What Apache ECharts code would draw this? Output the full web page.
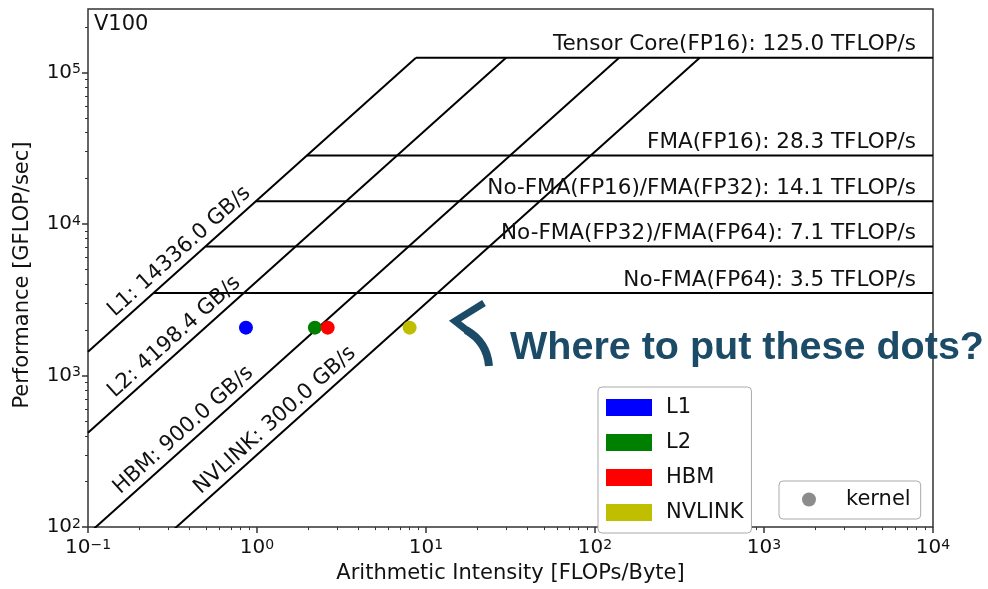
<!DOCTYPE html>
<html>
<head>
<meta charset="utf-8">
<script src="https://cdn.jsdelivr.net/npm/echarts@6/dist/echarts.min.js"></script>
<style>
  html, body { margin: 0; padding: 0; background: #fff; }
  #chart { width: 988px; height: 589px; }
</style>
</head>
<body>
<div id="chart"></div>
<script>
// ---------------- data ----------------
const chipName = 'V100';
const memLevels = ['L1', 'L2', 'HBM', 'NVLINK'];
const memBandwidth = [14336.0, 4198.4, 900.0, 300.0];          // GB/s
const computeNames = ['Tensor Core(FP16)', 'FMA(FP16)', 'No-FMA(FP16)/FMA(FP32)',
                      'No-FMA(FP32)/FMA(FP64)', 'No-FMA(FP64)'];
const computePeak = [125000, 28300, 14100, 7100, 3500];          // GFLOP/s
const kernelAI = [0.86, 2.2, 2.62, 8.0];                          // FLOPs/Byte
const kernelPerf = [2070, 2070, 2070, 2070];                      // GFLOP/s
const xTickExps = [-1, 0, 1, 2, 3, 4];
const yTickExps = [2, 3, 4, 5];
const xRange = [0.1, 10000];
const yRange = [100, 262000];

// ---------------- helpers ----------------
const L = Math.log10;
const FONT = 'DejaVu Sans';
const TXT = '#111';
const memColors = ['#0000ff', '#008000', '#ff0000', '#bfbf00'];

const xMin = L(xRange[0]), xMax = L(xRange[1]);
const yMin = L(yRange[0]), yMax = L(yRange[1]);

function minorTicks(lo, hi) {
  const out = [];
  for (let e = Math.floor(lo); e < Math.ceil(hi); e++) {
    for (let k = 2; k <= 9; k++) {
      const v = L(k * Math.pow(10, e));
      if (v > lo && v < hi) out.push(v);
    }
  }
  return out;
}
function expLabel(v) {
  const e = Math.round(v);
  const s = e < 0 ? '\u2212' + (-e) : '' + e;
  return '{b|10}{s|' + s + '}';
}
const tickRich = {
  b: { fontSize: 20, fontFamily: FONT, color: TXT, lineHeight: 20 },
  s: { fontSize: 14, fontFamily: FONT, color: TXT, lineHeight: 10, verticalAlign: 'top' }
};

const grid = { left: 88, right: 55, top: 9, bottom: 60 };
const gridW = 988 - grid.left - grid.right;
const gridH = 589 - grid.top - grid.bottom;
const slopeDeg = Math.atan2(gridH / (yMax - yMin), gridW / (xMax - xMin)) * 180 / Math.PI;

// ---------------- series ----------------
const series = [];
const lineBase = { type: 'line', symbol: 'none', silent: true, clip: true,
                   lineStyle: { color: '#000', width: 2 }, z: 2 };

memBandwidth.forEach((bw) => {
  series.push(Object.assign({}, lineBase, {
    data: [[xMin, L(bw * xRange[0])], [L(computePeak[0] / bw), L(computePeak[0])]]
  }));
});
computePeak.forEach((p) => {
  series.push(Object.assign({}, lineBase, {
    data: [[L(p / memBandwidth[0]), L(p)], [xMax, L(p)]]
  }));
});

const labelItemStyle = { color: 'rgba(0,0,0,0)', opacity: 1 };
// labels along bandwidth roofs
series.push({
  type: 'scatter', silent: true, clip: false, symbolSize: 1, z: 3,
  itemStyle: labelItemStyle,
  data: memBandwidth.map((bw, i) => {
    const ai = Math.max(0.155, 150 / bw);
    return {
      value: [L(ai), L(bw * ai)],
      label: {
        show: true, position: 'inside', align: 'left', verticalAlign: 'bottom',
        rotate: slopeDeg, offset: [0, -3],
        formatter: memLevels[i] + ': ' + bw.toFixed(1) + ' GB/s',
        fontSize: 21.3, fontFamily: FONT, color: TXT, opacity: 1
      }
    };
  })
});
// labels on compute ceilings
series.push({
  type: 'scatter', silent: true, clip: false, symbolSize: 1, z: 3,
  itemStyle: labelItemStyle,
  data: computePeak.map((p, i) => ({
    value: [xMax, L(p)],
    label: {
      show: true, position: 'inside', align: 'right', verticalAlign: 'bottom',
      offset: [-17, -2],
      formatter: computeNames[i] + ': ' + (p / 1000).toFixed(1) + ' TFLOP/s',
      fontSize: 21.5, fontFamily: FONT, color: TXT, opacity: 1
    }
  }))
});

// kernel dots
memLevels.forEach((m, i) => {
  series.push({
    name: m, type: 'scatter', symbol: 'circle', symbolSize: 14, z: 5,
    itemStyle: { color: memColors[i], opacity: 1 },
    data: [[L(kernelAI[i]), L(kernelPerf[i])]]
  });
});
series.push({ name: 'kernel', type: 'scatter', symbol: 'circle', symbolSize: 14,
              itemStyle: { color: '#808080', opacity: 0.9 }, data: [] });

const tickLine = { color: '#333', width: 1.5 };
const noLine = { show: false, onZero: false };

const option = {
  animation: false,
  backgroundColor: '#fff',
  title: { text: chipName, left: 94, top: 14, padding: 0,
           textStyle: { fontSize: 21, fontWeight: 'normal', fontFamily: FONT, color: TXT } },
  grid: Object.assign({ show: true, borderColor: '#333', borderWidth: 1.5, containLabel: false }, grid),
  xAxis: [
    { type: 'value', min: xMin, max: xMax, position: 'bottom',
      axisLine: noLine, splitLine: { show: false },
      axisTick: { show: true, customValues: xTickExps, length: 6, lineStyle: tickLine },
      axisLabel: { customValues: xTickExps, formatter: expLabel, rich: tickRich, margin: 11 },
      name: 'Arithmetic Intensity [FLOPs/Byte]', nameLocation: 'middle', nameGap: 31,
      nameTextStyle: { fontSize: 21, fontFamily: FONT, color: TXT } },
    { type: 'value', min: xMin, max: xMax, position: 'bottom',
      axisLine: noLine, splitLine: { show: false }, axisLabel: { show: false },
      axisTick: { show: true, customValues: minorTicks(xMin, xMax), length: 3, lineStyle: { color: '#333', width: 1 } } }
  ],
  yAxis: [
    { type: 'value', min: yMin, max: yMax, position: 'left',
      axisLine: noLine, splitLine: { show: false },
      axisTick: { show: true, customValues: yTickExps, length: 6, lineStyle: tickLine },
      axisLabel: { customValues: yTickExps, formatter: expLabel, rich: tickRich, margin: 7 },
      name: 'Performance [GFLOP/sec]', nameLocation: 'middle', nameGap: 55,
      nameTextStyle: { fontSize: 21, fontFamily: FONT, color: TXT, padding: [0, 0, 0, -14] } },
    { type: 'value', min: yMin, max: yMax, position: 'left',
      axisLine: noLine, splitLine: { show: false }, axisLabel: { show: false },
      axisTick: { show: true, customValues: minorTicks(yMin, yMax), length: 3, lineStyle: { color: '#333', width: 1 } } }
  ],
  legend: [
    { data: memLevels, orient: 'vertical', left: 598, top: 387, icon: 'rect',
      itemWidth: 46, itemHeight: 17, itemGap: 14, padding: [10, 8, 10, 8],
      borderColor: '#aaa', borderWidth: 1, borderRadius: 4, backgroundColor: '#fff',
      selectedMode: false,
      textStyle: { fontSize: 21, fontFamily: FONT, color: TXT, lineHeight: 17, padding: [0, 0, 0, 9] } },
    { data: ['kernel'], orient: 'horizontal', left: 779, top: 481, icon: 'circle',
      itemWidth: 14, itemHeight: 14, padding: [8, 10, 9, 23],
      borderColor: '#aaa', borderWidth: 1, borderRadius: 4, backgroundColor: '#fff',
      selectedMode: false,
      textStyle: { fontSize: 21, fontFamily: FONT, color: TXT, lineHeight: 14, padding: [0, 0, 0, 25] } }
  ],
  graphic: [
    { type: 'text', x: 510, y: 348, z: 10,
      style: { text: 'Where to put these dots?', fontSize: 39.5, fontWeight: 'bold',
               fontFamily: 'Liberation Sans', fill: '#1b4b66', align: 'left', verticalAlign: 'middle' } },
    { type: 'polyline', z: 10,
      shape: { points: [[484, 303], [455, 321], [474, 336]] },
      style: { stroke: '#1b4b66', lineWidth: 7, fill: null, lineJoin: 'miter', lineCap: 'butt' } },
    { type: 'bezierCurve', z: 10,
      shape: { x1: 466, y1: 330, cpx1: 487, cpy1: 342, x2: 489, y2: 366 },
      style: { stroke: '#1b4b66', lineWidth: 8, fill: null, lineCap: 'butt' } }
  ],
  series: series
};

const chart = echarts.init(document.getElementById('chart'), null, { renderer: 'canvas' });
chart.setOption(option);
</script>
</body>
</html>
